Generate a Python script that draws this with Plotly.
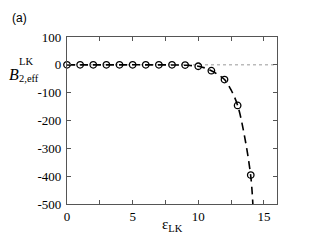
import plotly.graph_objects as go

# data points (open circles)
eps_pts = [0, 1, 2, 3, 4, 5, 6, 7, 8, 9, 10, 11, 12, 13, 14]
b_pts = [0, 0, 0, 0, 0, 0, 0, 0, 0, -1, -5, -21, -53, -146, -396]

# fitted dashed curve
eps_fit = [0, 2, 4, 6, 8, 9, 10, 10.5, 11, 11.5, 12, 12.5, 13, 13.5, 14, 14.16]
b_fit = [0, 0, 0, 0, -0.5, -1.5, -5, -11, -21, -35, -53, -90, -146, -250, -400, -500]

# tick labels
x_tickvals = [0, 2.5, 5, 7.5, 10, 12.5, 15]
x_ticktext = ["0", "", "5", "", "10", "", "15"]
y_tickvals = [100, 0, -100, -200, -300, -400, -500]
y_ticktext = ["100", "0", "-100", "-200", "-300", "-400", "-500"]

fig = go.Figure()
fig.add_trace(go.Scatter(x=[0, 16], y=[0, 0], mode="lines",
                         line=dict(color="#999999", width=1, dash="dot"),
                         showlegend=False, hoverinfo="skip"))
fig.add_trace(go.Scatter(x=eps_fit, y=b_fit, mode="lines", line_shape="spline",
                         line=dict(color="black", width=1.6, dash="8px,5px"),
                         showlegend=False))
fig.add_trace(go.Scatter(x=eps_pts, y=b_pts, mode="markers",
                         marker=dict(symbol="circle-open", size=6.5,
                                     color="black", line=dict(width=1.3)),
                         showlegend=False, cliponaxis=False))

axis_common = dict(showgrid=False, zeroline=False, showline=True,
                   linecolor="#555555", linewidth=1.2, mirror="ticks",
                   ticks="inside", ticklen=4, tickcolor="#555555",
                   tickfont=dict(family="Liberation Serif", size=13, color="black"))

fig.update_xaxes(range=[0, 16], tickvals=x_tickvals, ticktext=x_ticktext, **axis_common)
fig.update_yaxes(range=[-500, 100], tickvals=y_tickvals, ticktext=y_ticktext,
                 ticklabelstandoff=2, **axis_common)

fig.update_layout(
    width=312, height=241,
    margin=dict(l=67, r=35, t=37, b=37),
    plot_bgcolor="white", paper_bgcolor="white",
    annotations=[
        dict(text="(a)", xref="paper", yref="paper", x=-0.27, y=1.114,
             showarrow=False, xanchor="left", yanchor="middle",
             font=dict(family="Liberation Sans", size=12, color="black")),
        dict(text="<i>B</i>", xref="paper", yref="paper", x=-0.284, y=0.778,
             showarrow=False, xanchor="left", yanchor="middle",
             font=dict(family="Liberation Serif", size=16, color="black")),
        dict(text="LK", xref="paper", yref="paper", x=-0.237, y=0.853,
             showarrow=False, xanchor="left", yanchor="middle",
             font=dict(family="Liberation Serif", size=10.5, color="black")),
        dict(text="2,eff", xref="paper", yref="paper", x=-0.237, y=0.749,
             showarrow=False, xanchor="left", yanchor="middle",
             font=dict(family="Liberation Serif", size=10.5, color="black")),
        dict(text="ε<sub>LK</sub>", xref="paper", yref="paper", x=0.5, y=-0.126,
             showarrow=False, xanchor="center", yanchor="middle",
             font=dict(family="Liberation Serif", size=15, color="black")),
    ],
)

fig.write_html("out.html", config={"displayModeBar": False},
               post_script="document.body.style.margin='0px';")
